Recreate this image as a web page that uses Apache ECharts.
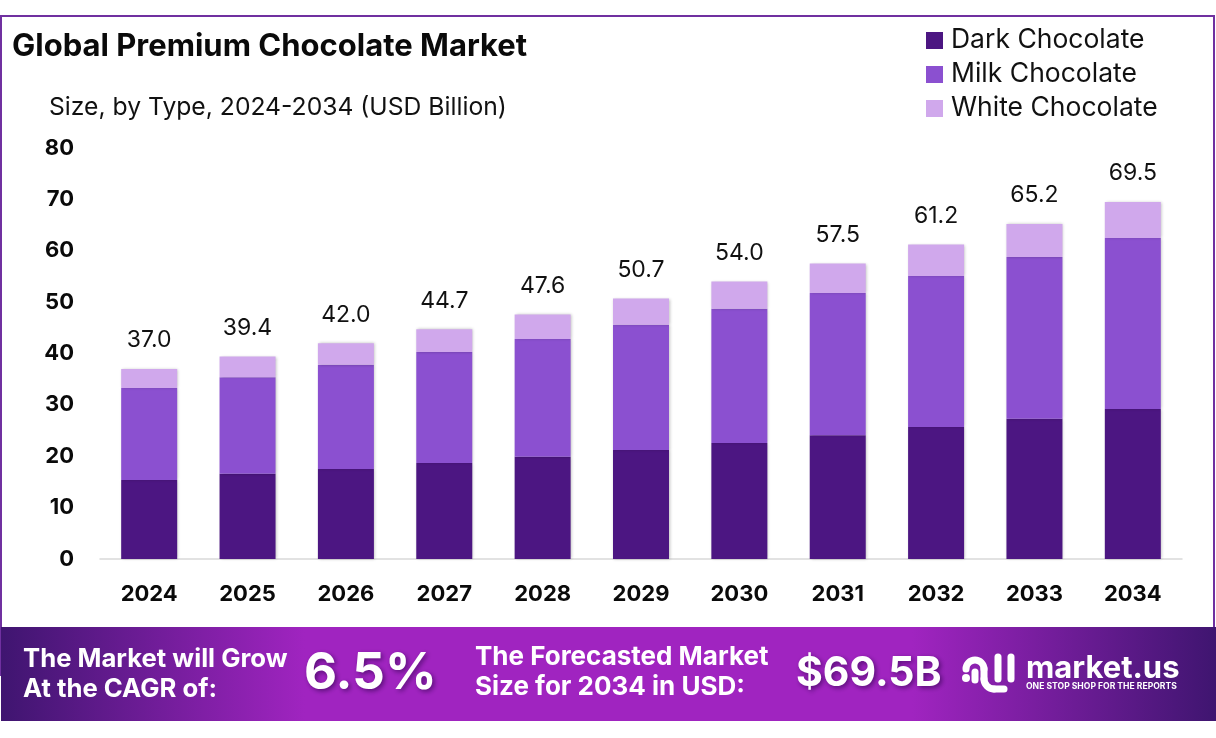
<!DOCTYPE html>
<html>
<head>
<meta charset="utf-8">
<title>Global Premium Chocolate Market</title>
<style>
  html, body { margin: 0; padding: 0; background: #fff; }
  #main { width: 1216px; height: 738px; }
</style>
<script src="https://cdn.jsdelivr.net/npm/echarts@6/dist/echarts.min.js"></script>
</head>
<body>
<div id="main"></div>
<script>
var years = ['2024', '2025', '2026', '2027', '2028', '2029', '2030', '2031', '2032', '2033', '2034'];
var darkValues = [15.4, 16.6, 17.5, 18.7, 19.9, 21.2, 22.6, 24.1, 25.7, 27.3, 29.2];
var milkValues = [17.9, 18.8, 20.3, 21.6, 22.9, 24.4, 26.1, 27.7, 29.4, 31.5, 33.3];
var whiteValues = [3.7, 4.0, 4.2, 4.4, 4.8, 5.1, 5.3, 5.7, 6.1, 6.4, 7.0];
var totals = ['37.0', '39.4', '42.0', '44.7', '47.6', '50.7', '54.0', '57.5', '61.2', '65.2', '69.5'];

var FONT = 'Inter';
var shadow = { shadowColor: 'rgba(0,0,0,0.25)', shadowBlur: 3, shadowOffsetX: 1 };
var bigShadow = { textShadowColor: 'rgba(40,0,70,0.6)', textShadowBlur: 5, textShadowOffsetX: 2, textShadowOffsetY: 2 };

function bannerText(x, y, text, size, extra) {
  var style = { x: x, y: y, text: text, fill: '#fff', fontFamily: FONT, fontWeight: 'bold', fontSize: size, textVerticalAlign: 'middle' };
  for (var k in extra) style[k] = extra[k];
  return { type: 'text', z: 10, style: style };
}

// logo 的线条
var logoStroke = { fill: 'none', stroke: '#fff', lineWidth: 7, lineCap: 'round' };
function logoArc(cx, cy, r, from, to, clockwise) {
  return { type: 'arc', z: 10, shape: { cx: cx, cy: cy, r: r, startAngle: from, endAngle: to, clockwise: clockwise }, style: logoStroke };
}
function logoLine(x1, y1, x2, y2) {
  return { type: 'line', z: 10, shape: { x1: x1, y1: y1, x2: x2, y2: y2 }, style: logoStroke };
}

var chart = echarts.init(document.getElementById('main'));

chart.setOption({
  backgroundColor: '#fff',
  animation: false,
  title: [
    { text: 'Global Premium Chocolate Market', left: 7, top: 26, textStyle: { fontFamily: FONT, fontSize: 31, fontWeight: 'bold', color: '#0a0a0a' } },
    { text: 'Size, by Type, 2024-2034 (USD Billion)', left: 44, top: 90, textStyle: { fontFamily: FONT, fontSize: 24.7, fontWeight: 'normal', color: '#111' } }
  ],
  legend: {
    orient: 'vertical',
    left: 921,
    top: 22,
    itemWidth: 17,
    itemHeight: 17,
    itemGap: 7,
    icon: 'rect',
    data: ['Dark Chocolate', 'Milk Chocolate', 'White Chocolate'],
    textStyle: { fontFamily: FONT, fontSize: 26.5, color: '#111', padding: [0, 0, 0, 3] }
  },
  grid: { left: 100, right: 34, top: 148, bottom: 179 },
  xAxis: {
    type: 'category',
    data: years,
    axisTick: { show: false },
    axisLine: { lineStyle: { color: '#d9d9d9', width: 1.5 } },
    axisLabel: { margin: 24, fontFamily: FONT, fontSize: 22, fontWeight: 'bold', color: '#0a0a0a' }
  },
  yAxis: {
    type: 'value',
    min: 0,
    max: 80,
    interval: 10,
    axisLine: { show: false },
    axisTick: { show: false },
    splitLine: { show: false },
    axisLabel: { margin: 26, fontFamily: FONT, fontSize: 22, fontWeight: 'bold', color: '#0a0a0a' }
  },
  series: [
    { name: 'Dark Chocolate', type: 'bar', stack: 'total', barWidth: 56, data: darkValues, itemStyle: Object.assign({ color: '#4c1682' }, shadow) },
    { name: 'Milk Chocolate', type: 'bar', stack: 'total', barWidth: 56, data: milkValues, itemStyle: Object.assign({ color: '#8b50d0' }, shadow) },
    {
      name: 'White Chocolate', type: 'bar', stack: 'total', barWidth: 56, data: whiteValues,
      itemStyle: Object.assign({ color: '#d0a8ec' }, shadow),
      label: {
        show: true,
        position: 'top',
        distance: 17,
        fontFamily: FONT,
        fontSize: 23,
        color: '#111',
        formatter: function (p) { return totals[p.dataIndex]; }
      }
    }
  ],
  graphic: [
    // 外框
    { type: 'polyline', z: 1, shape: { points: [[1, 676], [1, 16], [1214, 16], [1214, 627]] }, style: { fill: 'none', stroke: '#7030a0', lineWidth: 2 } },
    // 底部横幅
    {
      type: 'rect', z: 5, shape: { x: 1, y: 627, width: 1215, height: 94 },
      style: {
        fill: new echarts.graphic.LinearGradient(0, 0, 1, 0, [
          { offset: 0, color: '#3f1570' },
          { offset: 0.25, color: '#a024c0' },
          { offset: 0.75, color: '#a024c0' },
          { offset: 1, color: '#3f1570' }
        ])
      }
    },
    bannerText(23, 659, 'The Market will Grow', 25.7),
    bannerText(23, 689, 'At the CAGR of:', 25.7),
    bannerText(304, 674, '6.5%', 51, bigShadow),
    bannerText(475, 657, 'The Forecasted Market', 26),
    bannerText(475, 687, 'Size for 2034 in USD:', 26),
    bannerText(796, 674, '$69.5B', 41, bigShadow),
    // logo
    { type: 'circle', z: 10, shape: { cx: 966, cy: 678, r: 4 }, style: { fill: '#fff' } },
    logoArc(975, 669, 9, Math.PI, 0, true),
    logoLine(984, 669, 984, 679),
    logoArc(994, 679, 10, Math.PI, Math.PI / 2, false),
    logoLine(994, 689, 1004, 689),
    logoLine(975, 672, 975, 680),
    logoLine(998, 657, 998, 679),
    logoLine(1011, 657, 1011, 679),
    bannerText(1026, 669, 'market.us', 31),
    bannerText(1026, 686, 'ONE STOP SHOP FOR THE REPORTS', 8.6)
  ]
});
</script>
</body>
</html>
